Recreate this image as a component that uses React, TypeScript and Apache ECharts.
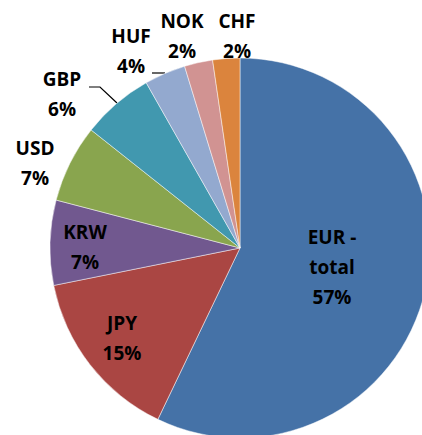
import React, { useEffect, useRef } from "react";
import * as echarts from "echarts";

const categories = ["EUR - total", "JPY", "KRW", "USD", "GBP", "HUF", "NOK", "CHF"];
const shares = [57.0, 14.7, 7.2, 6.6, 6.1, 3.5, 2.4, 2.3];
const colors = ["#4572A7", "#AA4643", "#71588F", "#89A54E", "#4198AF", "#93A9CF", "#D19392", "#DB843D"];
const insideLabel = [true, true, true, false, false, false, false, false];
const showLeader = [false, false, false, false, true, true, false, false];
const labelX = [332, 122, 85, 35, 62, 131, 182, 237];
const labelY = [267, 338, 247, 163, 94, 51, 36, 36];
const leaderPoints: Record<number, number[][]> = {
  4: [[117, 103], [100, 87], [89, 87]],
  5: [[165, 73], [159, 73], [152, 73]],
};

export default function App() {
  const ref = useRef<HTMLDivElement>(null);
  useEffect(() => {
    if (!ref.current) return;
    const chart = echarts.init(ref.current, null, { renderer: "svg" });
    const total = shares.reduce((a, b) => a + b, 0);
    chart.setOption({
      animation: false,
      series: [
        {
          type: "pie",
          center: [240, 248],
          radius: 190,
          startAngle: 90,
          clockwise: true,
          avoidLabelOverlap: false,
          itemStyle: { borderColor: "rgba(255,255,255,0.6)", borderWidth: 0.8 },
          label: {
            fontFamily: "'Open Sans', 'Noto Sans', sans-serif",
            fontWeight: "bold",
            fontSize: 19,
            lineHeight: 30,
            color: "#000",
            align: "center",
            formatter: (p: any) =>
              `${p.name.replace(" - ", " -\n")}\n${Math.round((p.value / total) * 100)}%`,
          },
          labelLine: { lineStyle: { color: "#000", width: 1.2 }, length: 8, length2: 10 },
          labelLayout: (params: any) => {
            const i = params.dataIndex;
            const o: any = {
              x: labelX[i],
              y: labelY[i],
              align: "center",
              verticalAlign: "middle",
            };
            if (leaderPoints[i]) o.labelLinePoints = leaderPoints[i];
            return o;
          },
          data: categories.map((name, i) => ({
            name,
            value: shares[i],
            itemStyle: { color: colors[i] },
            label: { position: insideLabel[i] ? "inside" : "outside" },
            labelLine: { show: showLeader[i] },
          })),
        },
      ],
    });
    return () => chart.dispose();
  }, []);
  return (
    <div
      ref={ref}
      style={{ position: "fixed", left: 0, top: 0, width: 422, height: 435, background: "#fff" }}
    />
  );
}
